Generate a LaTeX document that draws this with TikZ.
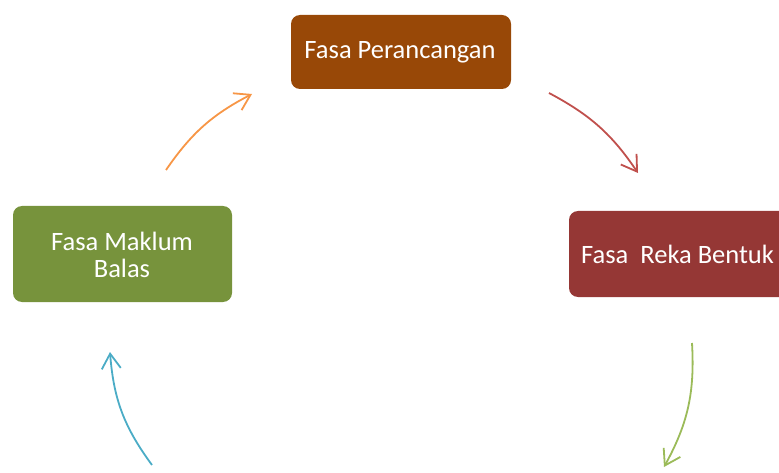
\documentclass[tikz,border=0pt]{standalone}
\usepackage{fontspec}
\setmainfont{Carlito}
\usetikzlibrary{arrows.meta}
\definecolor{cPer}{HTML}{984807}
\definecolor{cReka}{HTML}{953735}
\definecolor{cMak}{HTML}{77933C}
\definecolor{aOr}{HTML}{F79646}
\definecolor{aRed}{HTML}{C0504D}
\definecolor{aGr}{HTML}{9BBB59}
\definecolor{aBl}{HTML}{4BACC6}
\begin{document}
\begin{tikzpicture}[x=1pt,y=1pt,
  phase/.style={text=white, font=\fontsize{26.5}{27}\selectfont, align=center, inner sep=0pt},
  cyc/.style={line width=1.8pt, -{Straight Barb[length=15pt,width=19pt,line width=1.8pt]}}]
\useasboundingbox (0,0) rectangle (779,472);
\clip (0,0) rectangle (779,472);
% boxes
\fill[cPer, rounded corners=9pt] (291,383) rectangle (511,457);
\node[phase] (per) at (400,420) {Fasa Perancangan};
\fill[cReka, rounded corners=9pt] (569,175) rectangle (800,261);
\node[phase, anchor=west] (reka) at (581,218) {Fasa\ \ Reka Bentuk};
\fill[cMak, rounded corners=9pt] (13,170) rectangle (232,266);
\node[phase] (mak) at (122,217) {Fasa Maklum\\Balas};
% arrow ends
\coordinate (o1) at (166,302); \coordinate (o2) at (252,378);
\coordinate (r1) at (549,379); \coordinate (r2) at (638,299);
\coordinate (g1) at (692,129); \coordinate (g2) at (664,5);
\coordinate (b1) at (152,7);   \coordinate (b2) at (110,120);
\draw[cyc, aOr] (o1) to[bend left=14] (o2);
\draw[cyc, aRed] (r1) to[bend left=14] (r2);
\draw[cyc, aGr] (g1) to[bend left=16] (g2);
\draw[cyc, aBl] (b1) to[bend left=16] (b2);
\end{tikzpicture}
\end{document}
